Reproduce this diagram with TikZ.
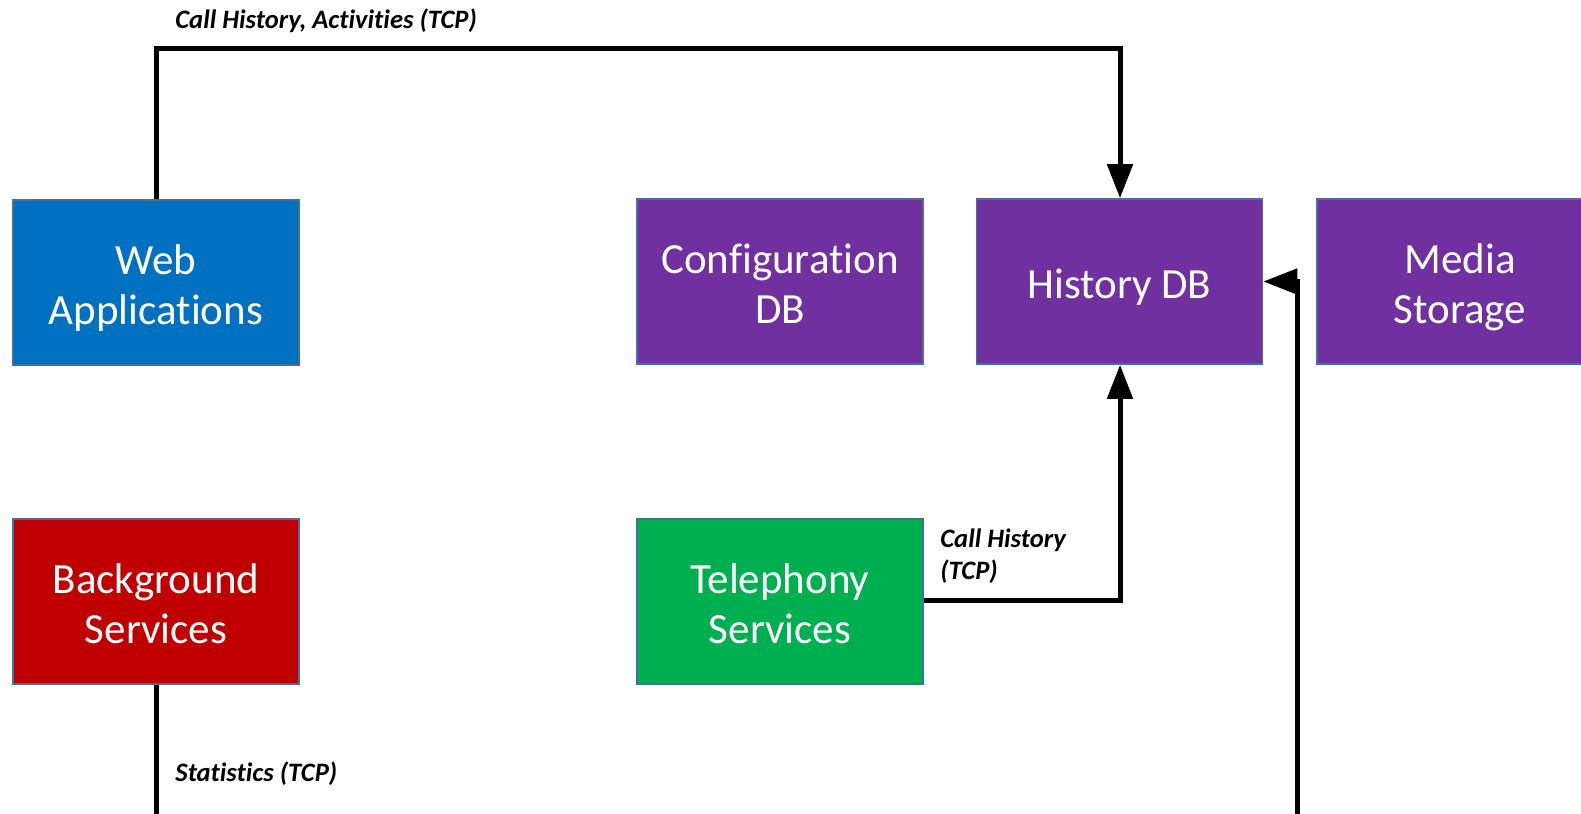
\documentclass[tikz,border=0pt]{standalone}
\usepackage{fontspec}
\setmainfont{Carlito}[Ligatures=NoCommon]
\usetikzlibrary{arrows.meta}
\definecolor{webblue}{HTML}{0070C0}
\definecolor{dbpurple}{HTML}{7030A0}
\definecolor{bgred}{HTML}{C00000}
\definecolor{telgreen}{HTML}{00B050}
\definecolor{edgeblue}{HTML}{41719C}
\newcommand\bxs{\rule[-4pt]{0pt}{25pt}}
\tikzset{
  box/.style={draw=edgeblue, line width=0.8pt, minimum width=143pt, minimum height=82.5pt,
    inner sep=0pt, align=center, text=white, font=\fontsize{21.5}{25}\selectfont},
  conn/.style={line width=2.5pt, line join=miter, -{Triangle[length=17pt,width=12.5pt]}},
  lbl/.style={font=\fontsize{13.3}{16}\selectfont\bfseries\itshape, inner sep=0pt, anchor=west, align=left}
}
\begin{document}
\begin{tikzpicture}[x=0.5pt,y=-0.5pt]
\useasboundingbox (0,0) rectangle (1581,814);
\clip (0,0) rectangle (1581,814);
\fill[white] (0,0) rectangle (1581,814);

\node[box, fill=webblue] (web) at (156,282.5) {\bxs Web\\\bxs Applications};
\node[box, fill=dbpurple] (conf) at (780,281.5) {\bxs Configuration\\\bxs DB};
\node[box, fill=dbpurple] (hist) at (1119.5,281.5) {\bxs History DB};
\node[box, fill=dbpurple] (media) at (1460,281.5) {\bxs Media\\\bxs Storage};
\node[box, fill=bgred] (bg) at (156,601.5) {\bxs Background\\\bxs Services};
\node[box, fill=telgreen] (tel) at (780,601.5) {\bxs Telephony\\\bxs Services};

\coordinate (t1) at (156,48);
\coordinate (t2) at (1120,48);
\coordinate (m1) at (1120,600);
\coordinate (b1) at (156,817);
\coordinate (b2) at (1297,817);
\coordinate (b3) at (1297,281.5);

\draw[conn] (web.north) -- (t1) -- (t2) -- (hist.north -| t2);
\draw[conn] (tel.east |- m1) -- (m1) -- (hist.south -| m1);
\draw[conn] (bg.south) -- (b1) -- (b2) -- (b3) -- (hist.east);

\node[lbl] (l1) at (175,21) {Call History, Activities (TCP)};
\node[lbl] (l2) at (940,556) {Call History\\(TCP)};
\node[lbl] (l3) at (175,774) {Statistics (TCP)};
\end{tikzpicture}
\end{document}
